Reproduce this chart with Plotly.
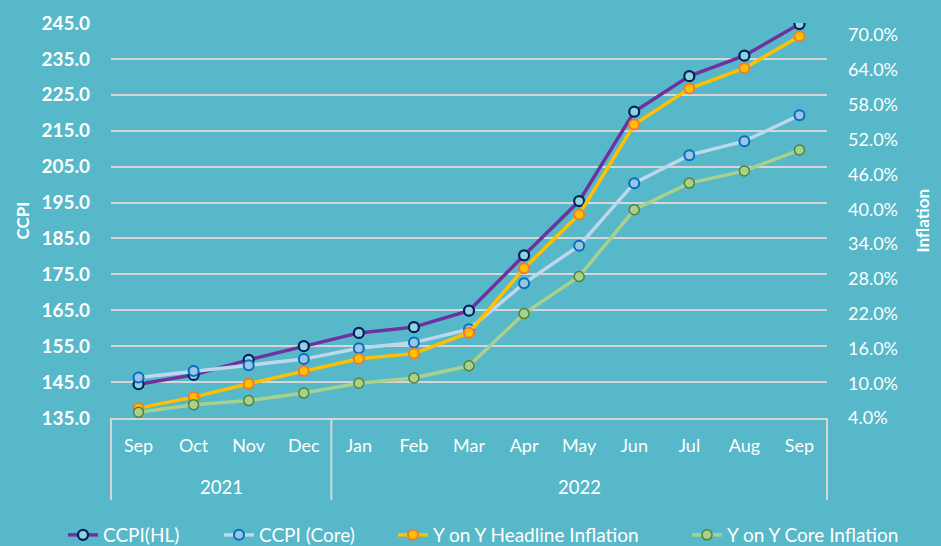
import plotly.graph_objects as go

years = ["2021"] * 4 + ["2022"] * 9
months = ["Sep", "Oct", "Nov", "Dec", "Jan", "Feb", "Mar", "Apr", "May", "Jun", "Jul", "Aug", "Sep"]

ccpi_hl = [144.4, 147.0, 151.2, 155.0, 158.7, 160.3, 164.9, 180.3, 195.4, 220.3, 230.2, 235.9, 244.7]
ccpi_core = [146.3, 148.1, 149.7, 151.4, 154.4, 156.0, 159.7, 172.5, 183.0, 200.4, 208.2, 212.1, 219.3]
yoy_headline = [5.7, 7.6, 9.9, 12.1, 14.2, 15.1, 18.7, 29.8, 39.1, 54.6, 60.8, 64.3, 69.8]
yoy_core = [5.0, 6.3, 7.0, 8.3, 10.0, 10.9, 13.0, 22.0, 28.4, 39.9, 44.5, 46.6, 50.2]

left_ticks = [135 + 10 * i for i in range(12)]
right_ticks = [4 + 6 * i for i in range(12)]

BG = "#56B8C8"
GRID = "#D6D6D6"
FONT = "Lato"
x = [f"{m} {y}" for m, y in zip(months, years)]

PLOT_L, PLOT_T, PLOT_W, PLOT_H = 111, 23, 716.0, 395.0
FIG_W, FIG_H = 941, 546

# legend text start positions (px) in the reference
legend_text_x = [103, 259, 433, 727]
legend_names = ["legend", "legend2", "legend3", "legend4"]

fig = go.Figure()
fig.add_trace(go.Scatter(
    x=x, y=ccpi_hl, name="CCPI(HL)", mode="lines+markers", legend="legend",
    line=dict(color="#7030A0", width=3.5),
    marker=dict(size=10, color="#8ED3DE", line=dict(color="#002060", width=2.2)),
))
fig.add_trace(go.Scatter(
    x=x, y=ccpi_core, name="CCPI (Core)", mode="lines+markers", legend="legend2",
    line=dict(color="#BDD7EE", width=3.5),
    marker=dict(size=10, color="#9DC3E6", line=dict(color="#0070C0", width=2)),
))
fig.add_trace(go.Scatter(
    x=x, y=yoy_headline, name="Y on Y Headline Inflation", mode="lines+markers",
    yaxis="y2", legend="legend3",
    line=dict(color="#FFC000", width=3.5),
    marker=dict(size=10, color="#FFC000", line=dict(color="#ED7D31", width=2)),
))
fig.add_trace(go.Scatter(
    x=x, y=yoy_core, name="Y on Y Core Inflation", mode="lines+markers",
    yaxis="y2", legend="legend4",
    line=dict(color="#A9D18E", width=3.5),
    marker=dict(size=10, color="#A9D18E", line=dict(color="#548235", width=1.5)),
))

n2021 = years.count("2021")
n_all = len(years)
div_bottom = -82 / PLOT_H
shapes = []
for xv in [0.0, n2021 / n_all, 1.0]:
    shapes.append(dict(type="line", xref="paper", yref="paper", x0=xv, x1=xv,
                       y0=0, y1=div_bottom, line=dict(color=GRID, width=2)))

annotations = [
    dict(text="2021", xref="paper", yref="paper", x=(n2021 / 2) / n_all,
         y=-69 / PLOT_H, xanchor="center", yanchor="middle", showarrow=False,
         font=dict(size=18.5, color="white", family=FONT)),
    dict(text="2022", xref="paper", yref="paper", x=(n2021 + (n_all - n2021) / 2) / n_all,
         y=-69 / PLOT_H, xanchor="center", yanchor="middle", showarrow=False,
         font=dict(size=18.5, color="white", family=FONT)),
    dict(text="<b>CCPI</b>", textangle=-90, xref="paper", yref="paper",
         x=(22 - PLOT_L) / PLOT_W, y=0.5, xanchor="center", yanchor="middle",
         showarrow=False, font=dict(size=17, color="white", family=FONT)),
    dict(text="<b>Inflation</b>", textangle=-90, xref="paper", yref="paper",
         x=1 + (922 - (PLOT_L + PLOT_W)) / PLOT_W, y=0.5, xanchor="center", yanchor="middle",
         showarrow=False, font=dict(size=17, color="white", family=FONT)),
]

legend_y = (PLOT_T + PLOT_H - 535) / PLOT_H
legends = {}
for name, tx in zip(legend_names, legend_text_x):
    legends[name] = dict(orientation="h", x=(tx - 40 - PLOT_L) / PLOT_W, xanchor="left",
                         y=legend_y, yanchor="middle",
                         font=dict(size=19, color="white", family=FONT),
                         bgcolor="rgba(0,0,0,0)", borderwidth=0)

fig.update_layout(
    width=FIG_W, height=FIG_H,
    margin=dict(l=PLOT_L, r=FIG_W - PLOT_L - PLOT_W, t=PLOT_T,
                b=FIG_H - PLOT_T - PLOT_H, autoexpand=False),
    paper_bgcolor=BG, plot_bgcolor=BG,
    font=dict(family=FONT, color="white", size=16),
    showlegend=True,
    xaxis=dict(
        type="category", showgrid=False, zeroline=False, range=[-0.5, n_all - 0.5],
        showline=True, linecolor=GRID, linewidth=2,
        tickvals=x, ticktext=months,
        tickfont=dict(size=18, color="white", family=FONT),
        ticks="", ticklabelstandoff=10, automargin=False,
    ),
    yaxis=dict(
        range=[135, 245], tickvals=left_ticks,
        ticktext=[f"{v:.1f}" for v in left_ticks],
        showgrid=True, gridcolor=GRID, gridwidth=2,
        zeroline=False, showline=False, ticks="",
        tickfont=dict(size=19, color="white", family=FONT, weight="bold"),
        ticklabelstandoff=20, automargin=False,
    ),
    yaxis2=dict(
        overlaying="y", side="right", range=[4, 72.1], tickvals=right_ticks,
        ticktext=[f"{v:.1f}%" for v in right_ticks],
        showgrid=False, zeroline=False, showline=False, ticks="",
        tickfont=dict(size=18, color="white", family=FONT),
        ticklabelstandoff=20, automargin=False,
    ),
    shapes=shapes,
    annotations=annotations,
    **legends,
)

post = ("document.body.style.margin='0';document.body.style.padding='0';"
        "document.body.style.overflow='hidden';"
        f"document.body.style.background='{BG}';")
fig.write_html("out.html", post_script=post, config={"displayModeBar": False})
